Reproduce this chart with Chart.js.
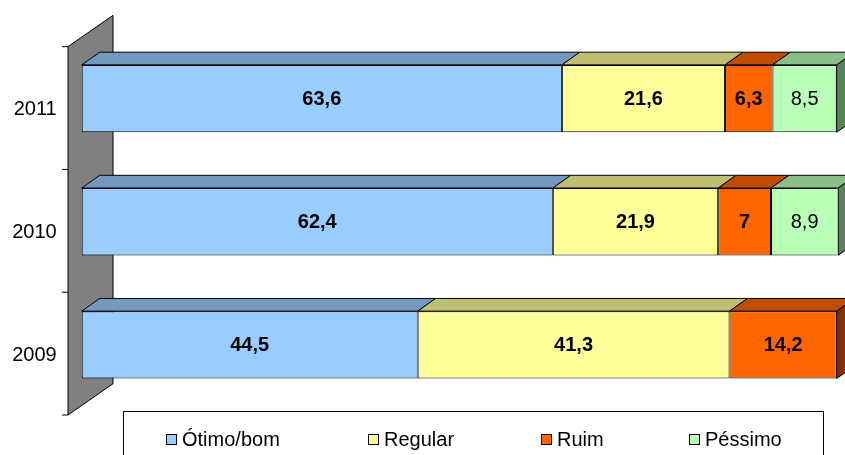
<!DOCTYPE html>
<html><head><meta charset="utf-8">
<script src="https://cdn.jsdelivr.net/npm/chart.js@4/dist/chart.umd.min.js"></script>
<style>html,body{margin:0;padding:0;background:#fff;overflow:hidden}</style>
</head><body>
<canvas id="c" width="845" height="455"></canvas>
<script>
// ---- data ----
const categories = ['2011', '2010', '2009'];
const seriesNames = ['Ótimo/bom', 'Regular', 'Ruim', 'Péssimo'];
const otimoBom = [63.6, 62.4, 44.5];
const regular  = [21.6, 21.9, 41.3];
const ruim     = [6.3, 7, 14.2];
const pessimo  = [8.5, 8.9, null];
const xRange   = [0, 100];

// ---- styles ----
const frontColors = ['#99CCFF', '#FFFF99', '#FF6600', '#B8FFB8'];
const topColors   = ['#7399BF', '#BFBF73', '#BF4C00', '#8ABF8A'];
const sideColors  = ['#4D6680', '#808040', '#803300', '#5C805C'];
const labelBold   = [true, true, true, false];
const legendX     = [166, 368, 541, 689];
const DX = 18, DY = -12.7;

const fmt = v => String(v).replace('.', ',');

function poly(ctx, pts, fill) {
  ctx.beginPath();
  ctx.moveTo(pts[0][0], pts[0][1]);
  for (let i = 1; i < pts.length; i++) ctx.lineTo(pts[i][0], pts[i][1]);
  ctx.closePath();
  ctx.fillStyle = fill; ctx.fill();
  ctx.strokeStyle = '#000'; ctx.lineWidth = 1; ctx.stroke();
}

const excel3d = {
  id: 'excel3d',
  beforeDatasetsDraw(chart) {
    const { ctx, chartArea: a } = chart;
    ctx.save();
    // back wall
    const fx = a.left - 13.7, ty = a.top + 9.65, by = a.bottom + 8.6;
    const bx = fx + 45, bdy = -31.3;
    poly(ctx, [[fx, ty], [bx, ty + bdy], [bx, by + bdy], [fx, by]], '#808080');
    ctx.beginPath();
    for (let i = 0; i <= categories.length; i++) {
      const y = ty + i * (by - ty) / categories.length;
      ctx.moveTo(fx - 6, y); ctx.lineTo(fx, y);
    }
    ctx.strokeStyle = '#000'; ctx.lineWidth = 1; ctx.stroke();

    // top faces and end side faces
    const n = chart.data.datasets.length;
    categories.forEach((c, j) => {
      let last = -1;
      for (let di = 0; di < n; di++) {
        const v = chart.data.datasets[di].data[j];
        if (v == null || v === 0) continue;
        last = di;
        const el = chart.getDatasetMeta(di).data[j];
        const { x, y, base, height } = el.getProps(['x', 'y', 'base', 'height'], true);
        const t = y - height / 2;
        poly(ctx, [[base, t], [x, t], [x + DX, t + DY], [base + DX, t + DY]], topColors[di]);
      }
      if (last >= 0) {
        const el = chart.getDatasetMeta(last).data[j];
        const { x, y, height } = el.getProps(['x', 'y', 'height'], true);
        const t = y - height / 2, b = y + height / 2;
        poly(ctx, [[x, t], [x + DX, t + DY], [x + DX, b + DY], [x, b]], sideColors[last]);
      }
    });
    ctx.restore();
  },
  afterDatasetsDraw(chart) {
    const { ctx } = chart;
    ctx.save();
    ctx.textAlign = 'center';
    ctx.textBaseline = 'middle';
    ctx.fillStyle = '#000';
    chart.data.datasets.forEach((ds, di) => {
      const meta = chart.getDatasetMeta(di);
      meta.data.forEach((el, j) => {
        const v = ds.data[j];
        if (v == null) return;
        const { x, y, base } = el.getProps(['x', 'y', 'base'], true);
        ctx.font = (labelBold[di] ? 'bold ' : '') + '20px "Liberation Sans", Arial, sans-serif';
        ctx.fillText(fmt(v), (x + base) / 2, y + 1);
      });
    });
    ctx.restore();
  },
  afterDraw(chart) {
    const { ctx } = chart;
    ctx.save();
    // legend box
    ctx.strokeStyle = '#000'; ctx.lineWidth = 1;
    ctx.strokeRect(123.5, 411.5, 700, 60);
    ctx.font = '20px "Liberation Sans", Arial, sans-serif';
    ctx.textBaseline = 'middle';
    ctx.textAlign = 'left';
    chart.data.datasets.forEach((ds, di) => {
      const x = legendX[di];
      ctx.fillStyle = frontColors[di];
      ctx.fillRect(x + 0.5, 434.5, 10, 10);
      ctx.strokeRect(x + 0.5, 434.5, 10, 10);
      ctx.fillStyle = '#000';
      ctx.fillText(ds.label, x + 16, 440);
    });
    ctx.restore();
  }
};

const seriesData = [otimoBom, regular, ruim, pessimo];
new Chart(document.getElementById('c'), {
  type: 'bar',
  data: {
    labels: categories,
    datasets: seriesNames.map((name, i) => ({
      label: name,
      data: seriesData[i],
      backgroundColor: frontColors[i],
      borderColor: '#000',
      borderWidth: 1,
      borderSkipped: false,
      barPercentage: 0.547,
      categoryPercentage: 1
    }))
  },
  options: {
    indexAxis: 'y',
    responsive: false,
    animation: false,
    events: [],
    layout: { padding: { top: 35.35, bottom: 48.6, right: 8.3, left: 0 } },
    plugins: { legend: { display: false }, tooltip: { enabled: false } },
    scales: {
      x: { stacked: true, min: xRange[0], max: xRange[1], display: false },
      y: {
        stacked: true,
        grid: { display: false, drawTicks: false },
        border: { display: false },
        ticks: {
          color: '#000',
          padding: 25,
          labelOffset: 11,
          font: { family: '"Liberation Sans", Arial, sans-serif', size: 20 }
        },
        afterFit(scale) { scale.width = 81.7; }
      }
    }
  },
  plugins: [excel3d]
});
</script>
</body></html>
